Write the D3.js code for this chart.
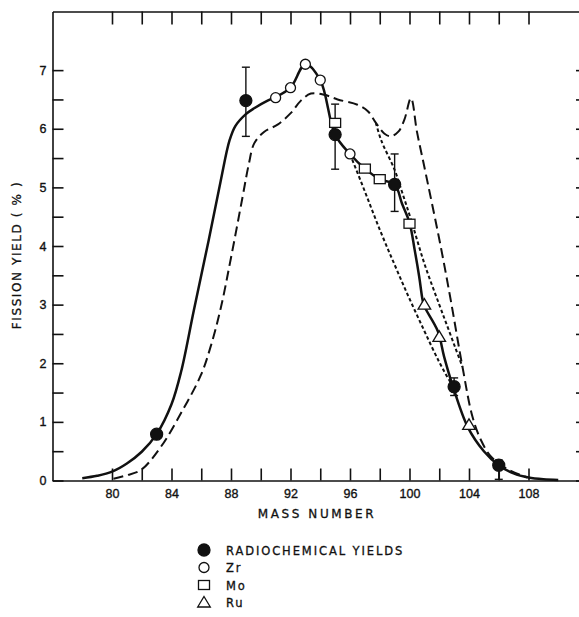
<!DOCTYPE html>
<html>
<head>
<meta charset="utf-8">
<script src="https://cdn.jsdelivr.net/npm/d3@7"></script>
<style>
  body { margin: 0; background: #fff; }
  svg { display: block; font-family: "DejaVu Sans", sans-serif; }
  .axis text { font-size: 12.5px; fill: #111; stroke: #111; stroke-width: 0.35px; }
  .axis path, .axis line { stroke: #111; stroke-width: 1.6px; }
  .title { fill: #111; stroke: #111; stroke-width: 0.3px; }
</style>
</head>
<body>
<svg id="chart" width="579" height="617"></svg>
<script>
// -------- data --------
// solid curve (mass number, yield %)
const solidMass = [78, 79, 80, 81, 82, 83, 84, 84.64, 85.5, 86.5, 87.3, 87.9, 88.3, 89, 89.56, 90.46, 91, 92, 93, 94, 95, 96, 97, 98, 99, 99.5, 100, 100.35, 100.65, 100.88, 101, 101.9, 102.33, 102.9, 103.9, 105, 106, 107, 108, 109, 110];
const solidYield = [0.04, 0.08, 0.15, 0.29, 0.49, 0.79, 1.3, 1.85, 2.9, 4.1, 5.1, 5.8, 6.05, 6.25, 6.35, 6.48, 6.54, 6.7, 7.1, 6.83, 5.9, 5.57, 5.32, 5.14, 5.05, 4.72, 4.4, 3.93, 3.48, 3.08, 2.97, 2.55, 2.11, 1.62, 0.92, 0.5, 0.26, 0.12, 0.05, 0.02, 0.01];

// long dashed curve
const dashMass = [80.1, 81, 81.95, 83.3, 84.75, 85.98, 86.65, 87.32, 88, 88.78, 89.2, 89.56, 90.24, 91.13, 92.03, 92.7, 93.37, 94.27, 95.17, 96.5, 97.2, 97.74, 98.3, 98.75, 99.25, 99.65, 100.1, 100.5, 100.99, 102.1, 102.77, 103.56, 104.23, 104.8, 105.47, 106.48, 107.9];
const dashYield = [0.03, 0.09, 0.18, 0.58, 1.2, 1.8, 2.3, 2.95, 3.8, 4.84, 5.4, 5.75, 5.95, 6.07, 6.27, 6.48, 6.6, 6.58, 6.5, 6.41, 6.3, 6.1, 5.92, 5.87, 5.95, 6.15, 6.52, 5.95, 5.36, 3.99, 3.08, 1.94, 1.09, 0.69, 0.41, 0.21, 0.05];

// two short-dashed branches
const dotAMass = [96, 97, 98, 99, 100, 101, 102, 102.7, 103];
const dotAYield = [5.57, 4.93, 4.28, 3.68, 3.1, 2.55, 2.02, 1.7, 1.6];
const dotBMass = [97.74, 98.1, 99, 99.5, 100.1, 101, 102, 102.56, 103.1, 103.56];
const dotBYield = [6.1, 5.8, 5.3, 4.92, 4.45, 3.7, 3.0, 2.62, 2.25, 1.94];

// radiochemical yields with error bars
const radioMass = [83, 89, 95, 99, 103, 106];
const radioYield = [0.79, 6.48, 5.9, 5.05, 1.6, 0.26];
const radioLow = [null, 5.87, 5.31, 4.59, 1.45, 0.02];
const radioHigh = [null, 7.05, 6.42, 5.57, 1.75, 0.35];

const zrMass = [91, 92, 93, 94, 96];
const zrYield = [6.53, 6.7, 7.1, 6.83, 5.57];
const moMass = [95, 97, 98, 100];
const moYield = [6.1, 5.32, 5.14, 4.38];
const ruMass = [101, 102, 104];
const ruYield = [3.0, 2.45, 0.95];

const legendLabels = ["RADIOCHEMICAL YIELDS", "Zr", "Mo", "Ru"];

// -------- setup --------
const svg = d3.select("#chart");
const x = d3.scaleLinear().domain([76, 112]).range([52.5, 588]);
const y = d3.scaleLinear().domain([0, 8]).range([480.5, 11.5]);
const zip = (a, b) => a.map((d, i) => [d, b[i]]);

const majorX = d3.range(80, 109, 2);
const minorY = d3.range(0, 7.01, 0.5);

// axes (ticks point into the plot)
svg.append("g").attr("class", "axis")
  .attr("transform", `translate(0,${y(0)})`)
  .call(d3.axisBottom(x).tickValues(majorX).tickSizeInner(-12).tickSizeOuter(0)
    .tickPadding(9).tickFormat(d => d % 4 === 0 ? d : ""));
svg.append("g").attr("class", "axis")
  .attr("transform", `translate(0,${y(8)})`)
  .call(d3.axisTop(x).tickValues(majorX).tickSizeInner(-13).tickSizeOuter(0).tickFormat(""));
svg.append("g").attr("class", "axis")
  .attr("transform", `translate(${x(76)},0)`)
  .call(d3.axisLeft(y).tickValues(minorY).tickSizeInner(-11).tickSizeOuter(0)
    .tickPadding(6).tickFormat(d => Number.isInteger(d) ? d : ""));
svg.append("g").attr("class", "axis")
  .attr("transform", `translate(${x(112)},0)`)
  .call(d3.axisRight(y).tickValues(minorY).tickSizeInner(-12).tickSizeOuter(0).tickFormat(""));

// axis titles
svg.append("text").attr("class", "title")
  .attr("x", 317).attr("y", 518)
  .attr("text-anchor", "middle")
  .style("font-size", "12px").style("letter-spacing", "2.6px")
  .text("MASS NUMBER");
svg.append("text").attr("class", "title")
  .attr("transform", "translate(21,255) rotate(-90)")
  .attr("text-anchor", "middle")
  .style("font-size", "12px").style("letter-spacing", "1.6px")
  .text("FISSION YIELD ( % )");

// curves
const line = d3.line().x(d => x(d[0])).y(d => y(d[1])).curve(d3.curveCatmullRom.alpha(0.5));
const curves = svg.append("g").attr("fill", "none").attr("stroke", "#111");

curves.append("path").datum(zip(dashMass, dashYield))
  .attr("d", line).attr("stroke-width", 2).attr("stroke-dasharray", "10,5");
curves.append("path").datum(zip(dotAMass, dotAYield))
  .attr("d", line).attr("stroke-width", 2).attr("stroke-dasharray", "3.5,2.5");
curves.append("path").datum(zip(dotBMass, dotBYield))
  .attr("d", line).attr("stroke-width", 2).attr("stroke-dasharray", "3.5,2.5");
curves.append("path").datum(zip(solidMass, solidYield))
  .attr("d", line).attr("stroke-width", 2.5);

// error bars
const radio = radioMass.map((m, i) => ({ m, v: radioYield[i], lo: radioLow[i], hi: radioHigh[i] }));
const err = svg.append("g").attr("stroke", "#111").attr("stroke-width", 1.4);
radio.filter(d => d.lo !== null).forEach(d => {
  err.append("line").attr("x1", x(d.m)).attr("x2", x(d.m)).attr("y1", y(d.lo)).attr("y2", y(d.hi));
  [d.lo, d.hi].forEach(v => {
    err.append("line").attr("x1", x(d.m) - 4).attr("x2", x(d.m) + 4).attr("y1", y(v)).attr("y2", y(v));
  });
});

// markers
const marks = svg.append("g").attr("stroke", "#111").attr("stroke-width", 1.3);
const tri = r => `M0,${-r}L${r * 1.05},${r * 0.75}L${-r * 1.05},${r * 0.75}Z`;

function drawSymbol(g, kind, cx, cy) {
  if (kind === 0) {
    g.append("circle").attr("cx", cx).attr("cy", cy).attr("r", 6).attr("fill", "#111");
  } else if (kind === 1) {
    g.append("circle").attr("cx", cx).attr("cy", cy).attr("r", 5).attr("fill", "#fff");
  } else if (kind === 2) {
    g.append("rect").attr("x", cx - 5.5).attr("y", cy - 4.5).attr("width", 11).attr("height", 9).attr("fill", "#fff");
  } else {
    g.append("path").attr("transform", `translate(${cx},${cy})`).attr("d", tri(6)).attr("fill", "#fff");
  }
}

zip(zrMass, zrYield).forEach(d => drawSymbol(marks, 1, x(d[0]), y(d[1])));
zip(moMass, moYield).forEach(d => drawSymbol(marks, 2, x(d[0]), y(d[1])));
zip(ruMass, ruYield).forEach(d => drawSymbol(marks, 3, x(d[0]), y(d[1])));
radio.forEach(d => drawSymbol(marks, 0, x(d.m), y(d.v)));

// legend
const legend = svg.append("g").attr("stroke", "#111").attr("stroke-width", 1.3);
legendLabels.forEach((t, i) => {
  const ly = 550 + i * 17.5;
  drawSymbol(legend, i, 204, ly);
  svg.append("text").attr("class", "title")
    .attr("x", 226).attr("y", ly + 4.5)
    .style("font-size", "11.5px").style("letter-spacing", "1.9px")
    .text(t);
});
</script>
</body>
</html>
